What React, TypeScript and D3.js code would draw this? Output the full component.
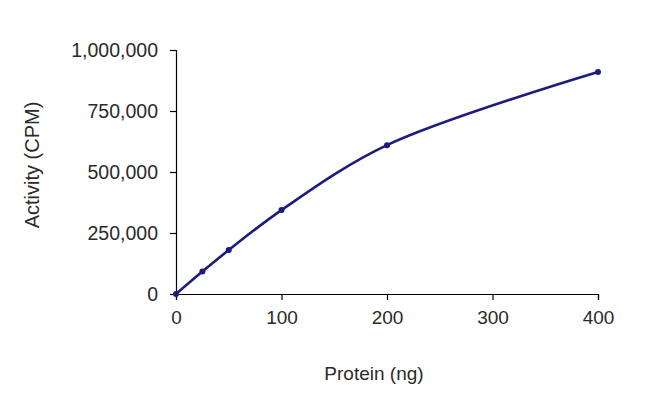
import React, { useEffect, useRef } from "react";
import * as d3 from "d3";

const protein = [0, 25, 50, 100, 200, 400];
const activity = [0, 92000, 180000, 344000, 610000, 910000];
const yTicks = [0, 250000, 500000, 750000, 1000000];
const xTicks = [0, 100, 200, 300, 400];

const W = 650;
const H = 413;

const App: React.FC = () => {
  const svgRef = useRef<SVGSVGElement | null>(null);

  useEffect(() => {
    if (!svgRef.current) return;
    const svg = d3.select(svgRef.current);
    svg.selectAll("*").remove();

    const x = d3.scaleLinear().domain([0, 400]).range([176, 598]);
    const y = d3.scaleLinear().domain([0, 1000000]).range([294, 50]);

    const font = "'Liberation Sans', Arial, sans-serif";
    const color = "#1c1c80";
    const fs = 19;

    // Y axis
    svg.append("g")
      .attr("transform", `translate(${x(0)},0)`)
      .call(d3.axisLeft(y).tickValues(yTicks).tickSize(6).tickPadding(12).tickFormat(d3.format(",")))
      .call(g => g.select(".domain").attr("stroke", "#000").attr("stroke-width", 1.2))
      .call(g => g.selectAll(".tick line").attr("stroke", "#000").attr("stroke-width", 1.2))
      .call(g => g.selectAll(".tick text").attr("fill", "#2a2a2a").attr("font-family", font).attr("font-size", fs + 0.5));

    // X axis
    svg.append("g")
      .attr("transform", `translate(0,${y(0)})`)
      .call(d3.axisBottom(x).tickValues(xTicks).tickSize(6).tickPadding(11).tickSizeOuter(6))
      .call(g => g.select(".domain").attr("stroke", "#000").attr("stroke-width", 1.2))
      .call(g => g.selectAll(".tick line").attr("stroke", "#000").attr("stroke-width", 1.2))
      .call(g => g.selectAll(".tick text").attr("fill", "#2a2a2a").attr("font-family", font).attr("font-size", fs));

    const pts = protein.map((p, i) => [p, activity[i]] as [number, number]);

    const line = d3.line<[number, number]>()
      .x(d => x(d[0]))
      .y(d => y(d[1]))
      .curve(d3.curveCatmullRom.alpha(0.5));

    svg.append("path")
      .datum(pts)
      .attr("d", line)
      .attr("fill", "none")
      .attr("stroke", color)
      .attr("stroke-width", 2.6);

    svg.selectAll(".pt")
      .data(pts)
      .join("circle")
      .attr("class", "pt")
      .attr("cx", d => x(d[0]))
      .attr("cy", d => y(d[1]))
      .attr("r", 3)
      .attr("fill", color);

    svg.append("text")
      .attr("transform", `translate(39,165) rotate(-90)`)
      .attr("text-anchor", "middle")
      .attr("font-family", font)
      .attr("font-size", 20)
      .attr("fill", "#2a2a2a")
      .text("Activity (CPM)");

    svg.append("text")
      .attr("x", 374)
      .attr("y", 380)
      .attr("text-anchor", "middle")
      .attr("font-family", font)
      .attr("font-size", fs)
      .attr("fill", "#2a2a2a")
      .text("Protein (ng)");
  }, []);

  return (
    <div style={{ position: "absolute", left: 0, top: 0, width: W, height: H, background: "#fff" }}>
      <svg ref={svgRef} width={W} height={H} style={{ display: "block" }} />
    </div>
  );
};

export default App;
